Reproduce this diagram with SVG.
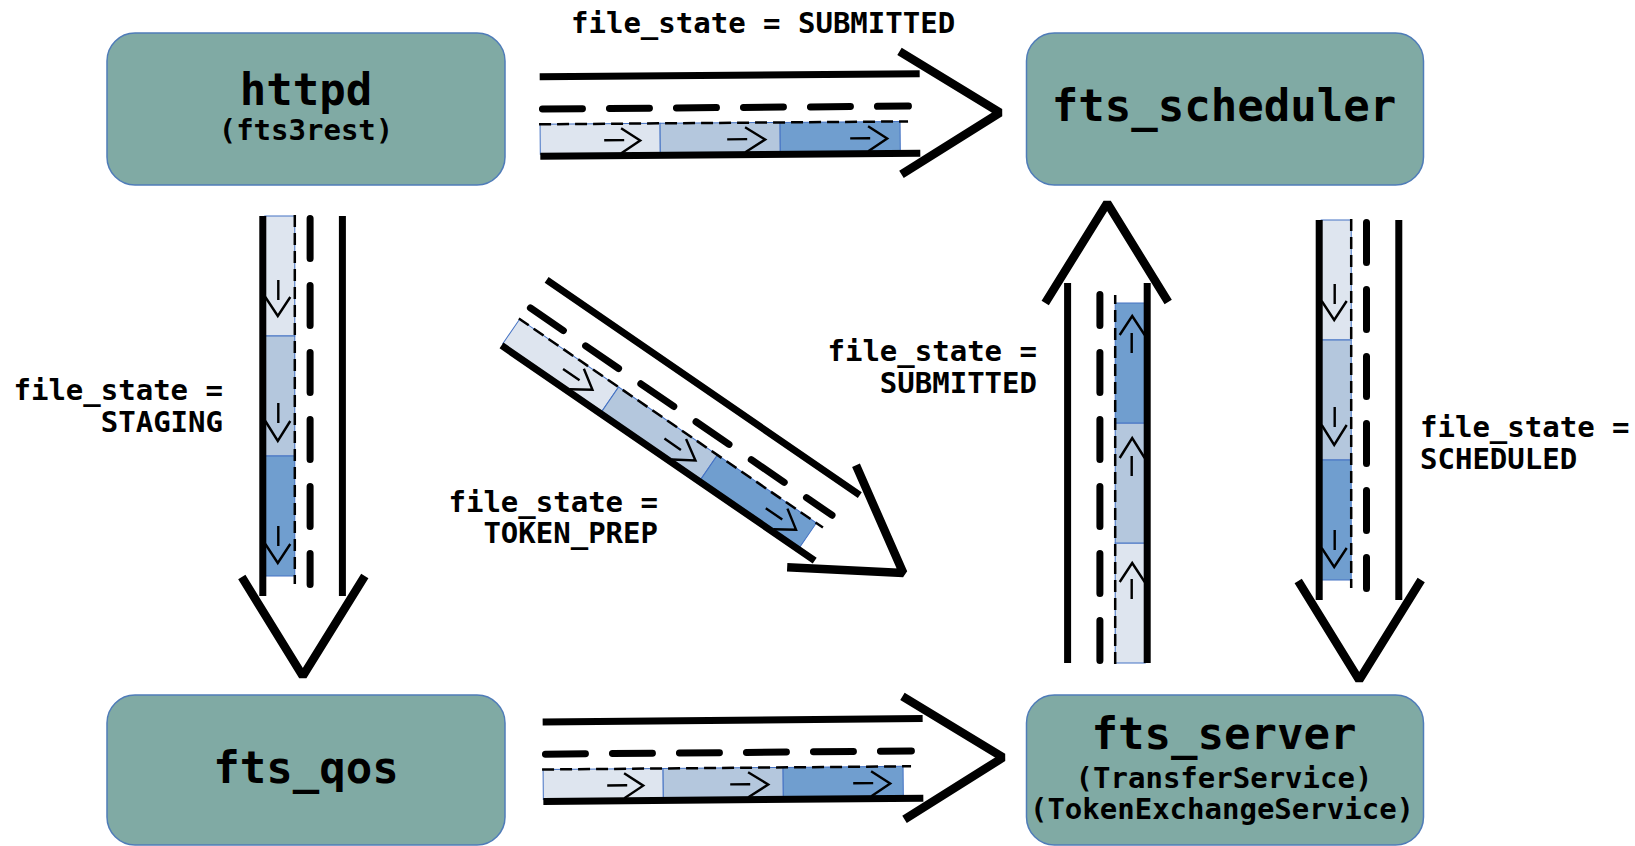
<svg xmlns="http://www.w3.org/2000/svg" width="1635" height="846" viewBox="0 0 1635 846">
<style>
  .node rect { fill: #80AAA4; stroke: #4F7CB8; stroke-width: 1.5; }
  .big { font-family: "DejaVu Sans Mono", monospace; font-weight: bold; font-size: 44px; fill: #000; text-anchor: middle; }
  .sub { font-family: "DejaVu Sans Mono", monospace; font-weight: bold; font-size: 29px; fill: #000; text-anchor: middle; }
  .lbl { font-family: "DejaVu Sans Mono", monospace; font-weight: bold; font-size: 29px; fill: #000; }
  .end { text-anchor: end; }
  .rail { stroke: #000; stroke-width: 7; fill: none; }
  .lane { stroke: #000; stroke-width: 7; stroke-linecap: round; stroke-dasharray: 40 27; fill: none; }
  .edge { stroke: #000; stroke-width: 2.5; stroke-dasharray: 12 6; fill: none; }
  .head { stroke: #000; stroke-width: 8.5; fill: none; stroke-linejoin: bevel; }
  .seg { stroke: #4472C4; stroke-width: 1; }
  .s1 { fill: #DEE5EF; }
  .s2 { fill: #B4C7DD; }
  .s3 { fill: #709ECF; }
  .tick { stroke: #000; stroke-width: 2.4; fill: none; }
</style>
<defs>
  <!-- one "road" connector in local coordinates: travels along +x, origin at the tail centre -->
  <g id="road">
    <rect class="seg s1" x="0" y="8" width="120" height="30"/>
    <rect class="seg s2" x="120" y="8" width="120" height="30"/>
    <rect class="seg s3" x="240" y="8" width="120" height="30"/>
    <path class="tick" d="M64 24.5H84M81 12.5L100 25L81 37.5"/>
    <path class="tick" d="M187 24.5H207M205 12.5L225 25L205 37.5"/>
    <path class="tick" d="M310 24.5H330M328 12.5L347 25L328 37.5"/>
    <path class="edge" d="M-1 8H368"/>
    <path class="lane" d="M2.5 -7.3H368.5"/>
    <path class="rail" d="M0 -39.6H380M0 40H380"/>
    <path class="head" d="M360 -62L460 0L361 61"/>
  </g>
</defs>

<g id="httpd" class="node">
  <rect x="107" y="33" width="398" height="152" rx="28"/>
  <text class="big" x="306" y="105">httpd</text>
  <text class="sub" x="306" y="140">(fts3rest)</text>
</g>

<g id="fts_scheduler" class="node">
  <rect x="1026.5" y="33" width="397" height="152" rx="28"/>
  <text class="big" x="1224" y="121">fts_scheduler</text>
</g>

<g id="fts_qos" class="node">
  <rect x="107" y="695" width="398" height="150" rx="28"/>
  <text class="big" x="306" y="783">fts_qos</text>
</g>

<g id="fts_server" class="node">
  <rect x="1026.5" y="695" width="397" height="150" rx="28"/>
  <text class="big" x="1224" y="749">fts_server</text>
  <text class="sub" x="1224" y="788">(TransferService)</text>
  <text class="sub" x="1222" y="819">(TokenExchangeService)</text>
</g>

<g id="connectors">
  <use href="#road" transform="translate(540 116.3) rotate(-0.45)"/>
  <use href="#road" transform="translate(543 761.5) rotate(-0.5)"/>
  <use href="#road" transform="translate(302.8 216) rotate(90)"/>
  <use href="#road" transform="translate(1359.2 220) rotate(90)"/>
  <use href="#road" transform="translate(1107.2 663) rotate(-90)"/>
  <use href="#road" transform="translate(524.2 312.5) rotate(34.5)"/>
</g>

<g id="labels">
  <text class="lbl" x="571" y="33">file_state = SUBMITTED</text>
  <text class="lbl end" x="223" y="400">file_state =</text>
  <text class="lbl end" x="223" y="432">STAGING</text>
  <text class="lbl end" x="658" y="512">file_state =</text>
  <text class="lbl end" x="658" y="543">TOKEN_PREP</text>
  <text class="lbl end" x="1037" y="361">file_state =</text>
  <text class="lbl end" x="1037" y="393">SUBMITTED</text>
  <text class="lbl" x="1420" y="437">file_state =</text>
  <text class="lbl" x="1420" y="469">SCHEDULED</text>
</g>
</svg>
